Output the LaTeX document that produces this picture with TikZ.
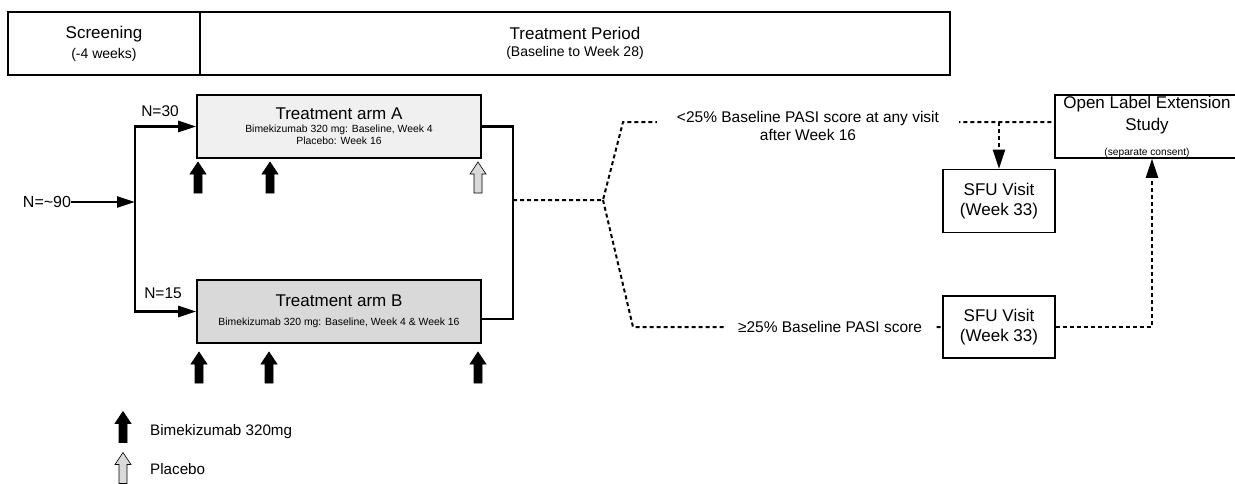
\documentclass[tikz,border=0pt]{standalone}
\usepackage{fontspec}
\setmainfont{Liberation Sans}
\usetikzlibrary{arrows.meta,backgrounds}
\newcommand\fs[1]{\fontsize{#1}{\dimexpr#1pt*6/5\relax}\selectfont}

\begin{document}
\begin{tikzpicture}[x=1pt,y=-1pt,
  cell/.style={draw, line width=1.6pt, minimum height=63pt, inner sep=0pt, align=center},
  armbox/.style={draw, line width=1.6pt, minimum width=284pt, minimum height=63pt, inner sep=0pt, align=center},
  visitbox/.style={draw, line width=1.6pt, minimum width=112pt, minimum height=63pt, inner sep=0pt, align=center, font=\fs{17}},
  flow/.style={line width=2.4pt},
  tip/.style={-{Triangle[length=18pt,width=11pt]}},
  dashflow/.style={line width=2pt, dash pattern=on 4pt off 3pt},
  dashtip/.style={-{Triangle[length=19pt,width=12pt]}},
  dose/.style={draw=black, line width=0.6pt, fill=black},
  plac/.style={draw=black, line width=0.6pt, fill=black!15},
  blockup/.pic={\path[pic actions] (-4,15.5) -- (-4,-3.5) -- (-8,-3.5) -- (0,-15.5)
     -- (8,-3.5) -- (4,-3.5) -- (4,15.5) -- cycle;},
  lbl/.style={inner sep=0pt, font=\fs{15.5}}]

\useasboundingbox (0,0) rectangle (1235,483);

% study periods
\node[cell, minimum width=192pt] (screen) at (104,43.5) {\fs{17}Screening\\[5pt]\fs{14}(-4 weeks)};
\node[cell, minimum width=750pt] (treat) at (575,43.5) {\fs{17}Treatment Period\\[5pt]\fs{14}(Baseline to Week 28)};

% arms
\node[armbox, fill=black!6] (armA) at (339,126.5) {\fs{17}Treatment arm A\\[1pt]\fs{10.4}Bimekizumab 320 mg: Baseline, Week 4\\\fs{10.4}Placebo: Week 16};
\node[armbox, fill=black!15] (armB) at (339,311.5) {\fs{17}Treatment arm B\\[7pt]\fs{10.4}Bimekizumab 320 mg: Baseline, Week 4 \& Week 16};

% randomisation
\node[lbl, font=\fs{16}] (total) at (47,202) {N=\textasciitilde 90};
\coordinate (split) at (135,202);
\draw[flow, tip] (total) -- (split);
\draw[flow, tip] (split) |- (armA);
\draw[flow, tip] (split) |- (armB);
\node[lbl] (nA) at (160,111) {N=30};
\node[lbl] (nB) at (163,293) {N=15};

% after treatment
\coordinate (merge) at (513,200);
\draw[flow] (armA.east) -| (merge) |- ([yshift=-7.5pt]armB.east);

\node[lbl, fill=white, inner xsep=20pt, inner ysep=2pt, align=center] (lowresp) at (808,126) {<25\% Baseline PASI score at any visit\\after Week 16};
\node[lbl, fill=white, inner xsep=14pt, inner ysep=2pt] (highresp) at (830,327) {≥25\% Baseline PASI score};

\node[visitbox] (sfuA) at (999,201) {SFU Visit\\(Week 33)};
\node[visitbox, minimum height=62pt] (sfuB) at (999,327) {SFU Visit\\(Week 33)};
\node[visitbox, minimum width=184pt] (ole) at (1147,126.5) {Open Label Extension\\[2pt]Study\\[4pt]\fs{10.2}(separate consent)};

\coordinate (fork) at (603,200);
\coordinate (upline) at (623,122);
\begin{scope}[on background layer]
\draw[dashflow] (merge) -- (fork) -- (upline) -- (upline -| ole.west);
\draw[dashflow] (fork) -- (633,327) -- (sfuB.west);
\end{scope}
\draw[dashflow, dashtip] (upline -| sfuA.north) -- (sfuA.north);
\draw[dashflow, dashtip] (sfuB.east) -| ([xshift=5pt]ole.south);

% dosing
\foreach \x/\n in {198/1,270/2}
  \pic[dose] (doseA\n) at (\x,177.5) {blockup};
\pic[plac] (placA) at (478,177.5) {blockup};
\foreach \x/\n in {199/1,269/2,478/3}
  \pic[dose] (doseB\n) at (\x,367.5) {blockup};

% legend
\pic[dose] (keyDose) at (123,427) {blockup};
\node[lbl, anchor=west, font=\fs{15.2}] (keyDoseTxt) at (150,432) {Bimekizumab 320mg};
\pic[plac] (keyPlac) at (123,468) {blockup};
\node[lbl, anchor=west, font=\fs{15.2}] (keyPlacTxt) at (150,469) {Placebo};
\end{tikzpicture}
\end{document}
